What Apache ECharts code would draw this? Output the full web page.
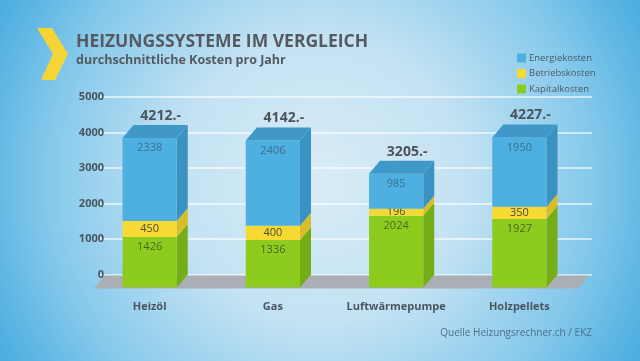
<!DOCTYPE html>
<html><head><meta charset="utf-8">
<script src="https://cdn.jsdelivr.net/npm/echarts@6/dist/echarts.min.js"></script>
<style>html,body{margin:0;padding:0;}#c{width:640px;height:361px;}</style>
</head><body><div id="c"></div>
<script>
const categories = ['Heizöl', 'Gas', 'Luftwärmepumpe', 'Holzpellets'];
const kapital = [1426, 1336, 2024, 1927];
const betrieb = [450, 400, 196, 350];
const energie = [2338, 2406, 985, 1950];
const totals = ['4212.-', '4142.-', '3205.-', '4227.-'];
const yTicks = [0, 1000, 2000, 3000, 4000, 5000];

const DX = 11, DY = 13;
const FONT = '"Open Sans", "Noto Sans", sans-serif';

function segSeries(name, values, bases, front, side, topC, labelColor, centered, isTop) {
  const data = values.map((v, i) => [i, bases[i], bases[i] + v, v]);
  return {
    type: 'custom', name: name, data: data,
    itemStyle: { color: front },
    encode: { x: 0, y: 2 },
    renderItem: function (params, api) {
      const i = api.value(0), b = api.value(1), t = api.value(2), v = api.value(3);
      const band = api.size([1, 0])[0];
      const w = band * 0.44;
      const pB = api.coord([i, b]), pT = api.coord([i, t]);
      const bx = pB[0] - w / 2, fx = bx - DX;
      const byB = pB[1], byT = pT[1];
      const fyB = byB + DY, fyT = byT + DY;
      const ch = [];
      ch.push({ type: 'polygon', shape: { points: [[fx + w, fyT], [bx + w, byT], [bx + w, byB], [fx + w, fyB]] }, style: { fill: side } });
      ch.push({ type: 'rect', shape: { x: fx, y: fyT, width: w, height: fyB - fyT }, style: { fill: front } });
      if (isTop) {
        ch.push({ type: 'polygon', shape: { points: [[fx, fyT], [bx, byT], [bx + w, byT], [fx + w, fyT]] }, style: { fill: topC } });
        ch.push({ type: 'text', style: { text: totals[params.dataIndex], x: pT[0], y: byT - 9, align: 'center', verticalAlign: 'middle', font: 'bold 14px ' + FONT, fill: '#4d545b' } });
      }
      const ly = centered ? (fyT + fyB) / 2 : fyT + 10;
      ch.push({ type: 'text', style: { text: String(v), x: fx + w / 2, y: ly, align: 'center', verticalAlign: 'middle', font: '11px ' + FONT, fill: labelColor } });
      return { type: 'group', children: ch };
    }
  };
}

const base0 = kapital.map(() => 0);
const base1 = kapital.slice();
const base2 = kapital.map((v, i) => v + betrieb[i]);

const chart = echarts.init(document.getElementById('c'));
chart.setOption({
  backgroundColor: new echarts.graphic.RadialGradient(0.5, 0.5, 1.0, [
    { offset: 0, color: '#d8ecf6' },
    { offset: 0.4, color: '#c3e2f3' },
    { offset: 0.75, color: '#86c9eb' },
    { offset: 1, color: '#4caee0' }
  ]),
  animation: false,
  graphic: [
    { type: 'polygon', shape: { points: [[37, 28], [52, 28], [68, 54], [55, 80], [41, 80], [53, 54]] }, style: { fill: '#f4d535' } },
    { type: 'text', left: 76, top: 33, style: { text: 'HEIZUNGSSYSTEME IM VERGLEICH', font: 'bold 17.5px ' + FONT, fill: '#555a60' } },
    { type: 'text', left: 76, top: 54, style: { text: 'durchschnittliche Kosten pro Jahr', font: 'bold 12.5px ' + FONT, fill: '#555a60' } },
    { type: 'text', right: 48, top: 328, style: { text: 'Quelle Heizungsrechner.ch / EKZ', font: '10px ' + FONT, fill: '#4f6f88' } }
  ],
  legend: {
    data: ['Energiekosten', 'Betriebskosten', 'Kapitalkosten'],
    orient: 'vertical', left: 512, top: 48,
    itemWidth: 9, itemHeight: 9, itemGap: 5.5, icon: 'rect',
    textStyle: { fontSize: 9.5, color: '#4a5a6a', fontFamily: FONT, padding: [0, 0, 0, -2] }
  },
  grid: { left: 99, right: 48, top: 97, bottom: 86.5, containLabel: false },
  xAxis: {
    type: 'category', data: categories,
    axisLine: { show: false }, axisTick: { show: false },
    axisLabel: { interval: 0, margin: 27, padding: [0, 22, 0, 0], fontWeight: 'bold', fontSize: 11, color: '#4a5560', fontFamily: FONT }
  },
  yAxis: {
    type: 'value', min: yTicks[0], max: yTicks[yTicks.length - 1], interval: 1000,
    axisLine: { show: false }, axisTick: { show: false },
    axisLabel: { margin: -5, fontWeight: 'bold', fontSize: 11, color: '#4a5560', fontFamily: FONT, formatter: function (v) { return String(v); } },
    splitLine: { lineStyle: { color: 'rgba(255,255,255,0.8)', width: 1.5 } }
  },
  series: [
    {
      type: 'custom', name: 'floor', data: [[0, 0]], silent: true,
      encode: { x: 0, y: 1 },
      renderItem: function (params, api) {
        const cs = params.coordSys;
        const y0 = cs.y + cs.height + 1;
        const xl = cs.x + 6, xr = cs.x + cs.width - 3;
        return { type: 'polygon', shape: { points: [[xl, y0], [xr, y0], [xr - DX, y0 + DY], [xl - DX, y0 + DY]] }, style: { fill: '#a9afb4' } };
      }
    },
    segSeries('Kapitalkosten', kapital, base0, '#8dcc1f', '#74ad15', null, '#4d6424', false, false),
    segSeries('Betriebskosten', betrieb, base1, '#f6da33', '#d8bd2b', null, '#4f4d33', true, false),
    segSeries('Energiekosten', energie, base2, '#4eb0e0', '#3a92c3', '#3f98c8', '#3d6f8f', false, true)
  ]
});
</script></body></html>
